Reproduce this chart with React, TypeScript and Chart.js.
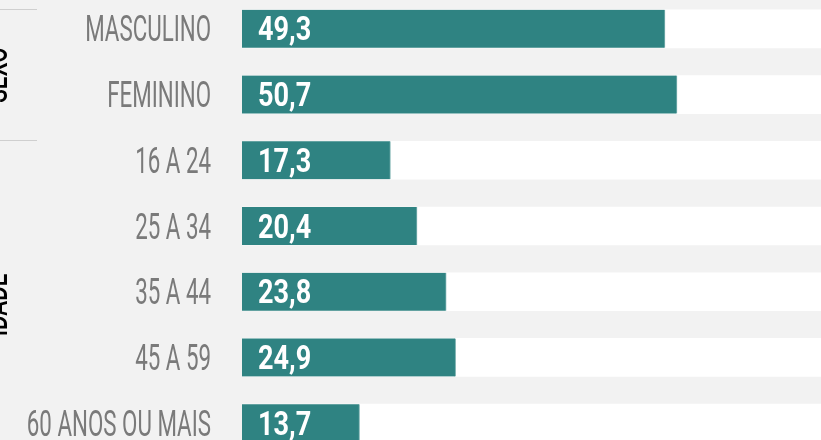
import React, { useEffect, useRef } from "react";
import { Chart, registerables } from "chart.js";

Chart.register(...registerables);

const categories = [
  "MASCULINO",
  "FEMININO",
  "16 A 24",
  "25 A 34",
  "35 A 44",
  "45 A 59",
  "60 ANOS OU MAIS",
];
const values = [49.3, 50.7, 17.3, 20.4, 23.8, 24.9, 13.7];
const trackValues = [100, 100, 100, 100, 100, 100, 100];
const groupNames = ["SEXO", "IDADE"];
const groupStarts = [0, 2];
const groupEnds = [1, 6];

const BG = "#f2f2f2";
const BAR = "#2f8382";
const TICK = "#7a7a7a";

function condensedText(
  ctx: CanvasRenderingContext2D,
  text: string,
  x: number,
  y: number,
  align: CanvasTextAlign,
  sx: number
) {
  ctx.save();
  ctx.translate(x, y);
  ctx.scale(sx, 1);
  ctx.textAlign = align;
  ctx.textBaseline = "alphabetic";
  ctx.fillText(text, 0, 0);
  ctx.restore();
}

const bgPlugin = {
  id: "bgFill",
  beforeDraw(chart: any) {
    const ctx = chart.ctx;
    ctx.save();
    ctx.fillStyle = BG;
    ctx.fillRect(0, 0, chart.width, chart.height);
    ctx.restore();
  },
};

const textPlugin = {
  id: "texts",
  afterDatasetsDraw(chart: any) {
    const ctx: CanvasRenderingContext2D = chart.ctx;
    const y = chart.scales.y;
    const left = chart.chartArea.left;
    ctx.save();
    // category labels
    ctx.fillStyle = TICK;
    ctx.font = "400 36px Roboto";
    categories.forEach((c, i) => {
      const cy = y.getPixelForValue(i);
      condensedText(ctx, c, left - 31, cy + 12.5, "right", 0.62);
    });
    // values
    ctx.fillStyle = "#ffffff";
    ctx.font = "700 33px Roboto";
    values.forEach((v, i) => {
      const cy = y.getPixelForValue(i);
      condensedText(ctx, v.toFixed(1).replace(".", ","), left + 16, cy + 11.5, "left", 0.82);
    });
    // group separators and names
    ctx.strokeStyle = "#cfcfcf";
    ctx.lineWidth = 1;
    const lineYs: number[] = [];
    groupStarts.forEach((s) => lineYs.push(Math.round(y.getPixelForValue(s) - 20) + 0.5));
    lineYs.push(Math.round(y.getPixelForValue(groupEnds[groupEnds.length - 1] + 1) - 20) + 0.5);
    lineYs.forEach((ly) => {
      ctx.beginPath();
      ctx.moveTo(0, ly);
      ctx.lineTo(37, ly);
      ctx.stroke();
    });
    ctx.fillStyle = "#000000";
    ctx.font = "500 31px Roboto";
    groupNames.forEach((g, i) => {
      const cy = (lineYs[i] + lineYs[i + 1]) / 2;
      ctx.save();
      ctx.translate(7, cy);
      ctx.rotate(-Math.PI / 2);
      ctx.scale(0.72, 1);
      ctx.textAlign = "center";
      ctx.textBaseline = "alphabetic";
      ctx.fillText(g, 0, 0);
      ctx.restore();
    });
    ctx.restore();
  },
};

export default function App() {
  const ref = useRef<HTMLCanvasElement | null>(null);
  useEffect(() => {
    document.body.style.background = BG;
    const chart = new Chart(ref.current as HTMLCanvasElement, {
      type: "bar",
      data: {
        labels: categories,
        datasets: [
          {
            data: values,
            backgroundColor: BAR,
            borderColor: "#7fb3b2",
            borderWidth: { top: 0, bottom: 0, left: 0, right: 1 },
            barThickness: 38,
            grouped: false,
            borderSkipped: false,
          },
          {
            data: trackValues,
            backgroundColor: "#ffffff",
            borderWidth: 0,
            barThickness: 38,
            grouped: false,
          },
        ],
      },
      options: {
        indexAxis: "y",
        animation: false,
        responsive: false,
        devicePixelRatio: 1,
        layout: { padding: { left: 242, right: 0, top: 0, bottom: 0 } },
        plugins: { legend: { display: false }, tooltip: { enabled: false } },
        scales: {
          x: { display: false, min: 0, max: 100 },
          y: { display: false, offset: true },
        },
      },
      plugins: [bgPlugin, textPlugin],
    } as any);
    return () => chart.destroy();
  }, []);
  return (
    <div
      style={{
        position: "fixed",
        left: 0,
        top: -4,
        width: 821,
        height: 460,
        overflow: "hidden",
        background: BG,
      }}
    >
      <canvas ref={ref} width={1100} height={460} style={{ display: "block" }} />
    </div>
  );
}
